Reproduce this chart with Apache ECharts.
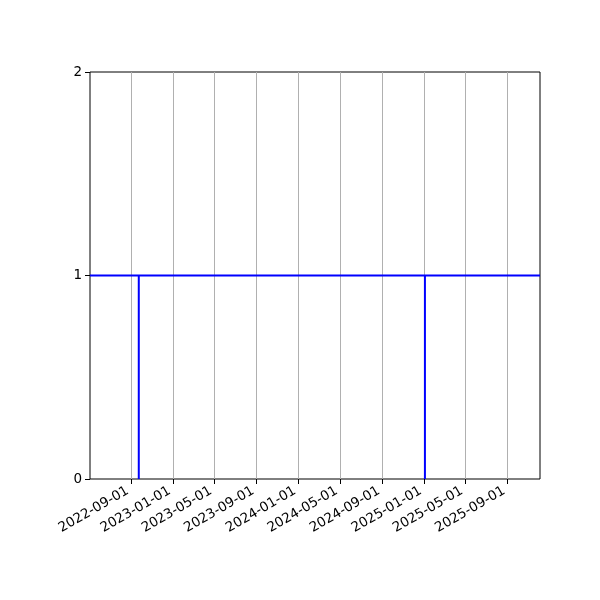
<!DOCTYPE html>
<html>
<head>
<meta charset="utf-8">
<script src="https://cdn.jsdelivr.net/npm/echarts@6/dist/echarts.min.js"></script>
<style>
html,body{margin:0;padding:0;background:#fff;}
#chart{width:600px;height:600px;}
</style>
</head>
<body>
<div id="chart"></div>
<script>
// Data
const dates = ['2022-05-04','2022-09-23','2022-09-23','2022-09-23','2025-01-03','2025-01-03','2025-01-03','2025-12-04'];
const values = [1, 1, 0, 1, 1, 0, 1, 1];
const xTickLabels = ['2022-09-01','2023-01-01','2023-05-01','2023-09-01','2024-01-01','2024-05-01','2024-09-01','2025-01-01','2025-05-01','2025-09-01'];
const yTicks = [0, 1, 2];
const xRange = ['2022-05-04','2025-12-04'];

function toTime(s){ const p = s.split('-').map(Number); return Date.UTC(p[0], p[1]-1, p[2]); }
function fmt(v){ const d=new Date(v); const m=d.getUTCMonth()+1, dd=d.getUTCDate(); return d.getUTCFullYear()+'-'+(m<10?'0':'')+m+'-'+(dd<10?'0':'')+dd; }

const chart = echarts.init(document.getElementById('chart'), null, {renderer:'canvas'});
const font = 'DejaVu Sans';
const xt = xTickLabels.map(toTime);
chart.setOption({
  animation:false,
  backgroundColor:'#fff',
  grid:{left:90,right:60,top:72,bottom:121,show:true,borderColor:'#000',borderWidth:1,backgroundColor:'transparent'},
  xAxis:{
    type:'value',
    min:toTime(xRange[0]),
    max:toTime(xRange[1]),
    axisLine:{show:false},
    axisTick:{show:true,length:5,lineStyle:{color:'#000',width:1},customValues:xt},
    axisLabel:{
      customValues:xt,
      formatter:fmt,
      rotate:30,color:'#000',fontFamily:font,fontSize:13.5,margin:9,padding:[0,4,0,0],hideOverlap:false
    },
    splitLine:{show:true,lineStyle:{color:'#b0b0b0',width:1}}
  },
  yAxis:{
    type:'value',
    min:yTicks[0],max:yTicks[yTicks.length-1],interval:1,
    axisLine:{show:false},
    axisTick:{show:true,length:5,lineStyle:{color:'#000',width:1}},
    axisLabel:{color:'#000',fontFamily:font,fontSize:13.5,margin:8},
    splitLine:{show:false}
  },
  series:[{
    type:'line',
    data:dates.map((d,i)=>[toTime(d),values[i]]),
    showSymbol:false,symbol:'none',
    lineStyle:{color:'#0000ff',width:2},
    itemStyle:{color:'#0000ff'}
  }]
});
</script>
</body>
</html>
